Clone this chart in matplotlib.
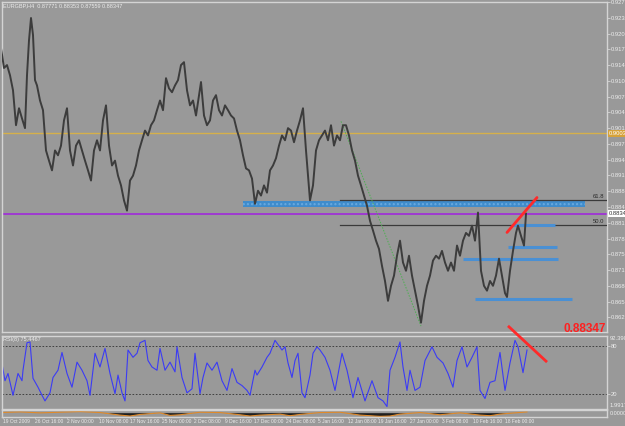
import numpy as np
import matplotlib.pyplot as plt

# ============================================
# DATA
# ============================================

title_text = "EURGBP,H4  0.87771 0.88353 0.87559 0.88347"
rsi_text = "RSI(8) 75.4467"

# H4 bar number (x) and close price
bar_idx = [1, 4, 7, 10, 13, 16, 19, 22, 25, 27, 29, 31, 33, 35, 37, 40, 43, 46, 49, 52,
           55, 58, 61, 64, 67, 70, 73, 76, 79, 82, 85, 88, 91, 94, 97, 100, 103, 106, 109, 112,
           115, 118, 121, 124, 127, 130, 133, 136, 139, 142, 145, 148, 151, 154, 157, 160, 163, 166, 169, 172,
           175, 178, 181, 184, 187, 190, 193, 196, 199, 201, 204, 207, 210, 213, 216, 219, 222, 225, 228, 231,
           234, 237, 240, 243, 246, 249, 252, 255, 258, 261, 264, 267, 270, 273, 276, 279, 282, 285, 288, 291,
           294, 297, 300, 303, 306, 308, 310, 313, 316, 319, 322, 325, 328, 331, 334, 337, 340, 343, 346, 349,
           352, 355, 358, 361, 364, 367, 370, 373, 376, 379, 382, 385, 388, 391, 394, 397, 400, 403, 406, 409,
           412, 415, 418, 421, 424, 427, 430, 433, 436, 439, 442, 445, 448, 451, 454, 457, 460, 463, 466, 469,
           472, 475, 478, 481, 484, 487, 490, 493, 496, 499, 502, 505, 507, 510, 513, 516, 518, 521, 524, 526]
close = [0.9176, 0.9135, 0.9141, 0.9120, 0.9089, 0.9017, 0.9052, 0.9031, 0.9011, 0.9120,
         0.9192, 0.9238, 0.9203, 0.9110, 0.9099, 0.9068, 0.9048, 0.8965, 0.8944, 0.8924,
         0.8965, 0.8955, 0.8975, 0.9027, 0.9052, 0.8965, 0.8934, 0.8975, 0.8986, 0.8965,
         0.8944, 0.8924, 0.8903, 0.8965, 0.8986, 0.8965, 0.9027, 0.9058, 0.8975, 0.8934,
         0.8944, 0.8913, 0.8893, 0.8862, 0.8841, 0.8903, 0.8913, 0.8934, 0.8965, 0.8986,
         0.9006, 0.8996, 0.9017, 0.9027, 0.9048, 0.9068, 0.9048, 0.9114, 0.9093, 0.9085,
         0.9099, 0.9110, 0.9141, 0.9147, 0.9089, 0.9058, 0.9068, 0.9037, 0.9079, 0.9106,
         0.9037, 0.9017, 0.9027, 0.9068, 0.9079, 0.9048, 0.9037, 0.9058, 0.9048, 0.9037,
         0.9031, 0.9006, 0.8986, 0.8955, 0.8928, 0.8924, 0.8907, 0.8855, 0.8882, 0.8872,
         0.8893, 0.8878, 0.8924, 0.8934, 0.8949, 0.8975, 0.8996, 0.8986, 0.9011, 0.9006,
         0.8982, 0.9006, 0.9027, 0.9052, 0.8965, 0.8913, 0.8862, 0.8893, 0.8965, 0.8986,
         0.8996, 0.9006, 0.8986, 0.9017, 0.8975, 0.8996, 0.8986, 0.9017, 0.9017, 0.8996,
         0.8965, 0.8944, 0.8913, 0.8893, 0.8872, 0.8851, 0.8820, 0.8800, 0.8779, 0.8762,
         0.8727, 0.8696, 0.8655, 0.8686, 0.8707, 0.8748, 0.8779, 0.8734, 0.8717, 0.8748,
         0.8707, 0.8676, 0.8645, 0.8610, 0.8655, 0.8686, 0.8707, 0.8738, 0.8748, 0.8742,
         0.8758, 0.8734, 0.8717, 0.8734, 0.8717, 0.8769, 0.8748, 0.8779, 0.8795, 0.8789,
         0.8810, 0.8779, 0.8837, 0.8717, 0.8686, 0.8676, 0.8696, 0.8686, 0.8707, 0.8742,
         0.8707, 0.8671, 0.8663, 0.8717, 0.8758, 0.8795, 0.8810, 0.8789, 0.8769, 0.88347]

# RSI(8)
rsi_bar = [2, 5, 8, 13, 18, 22, 23, 27, 30, 33, 38, 42, 45, 50, 53, 58, 62, 67, 72, 77,
           82, 87, 90, 95, 100, 105, 110, 115, 118, 122, 125, 128, 133, 137, 140, 145, 148, 152, 157, 160,
           165, 170, 175, 177, 182, 187, 192, 195, 200, 203, 207, 212, 217, 222, 227, 232, 237, 242, 247, 250,
           255, 257, 262, 267, 270, 275, 282, 285, 288, 292, 295, 298, 302, 305, 310, 313, 317, 320, 325, 330,
           335, 342, 347, 353, 358, 365, 372, 378, 383, 387, 390, 395, 400, 403, 407, 410, 415, 420, 425, 432,
           437, 443, 448, 453, 457, 462, 467, 472, 477, 480, 485, 490, 495, 500, 505, 510, 515, 518, 523, 527]
rsi_val = [58, 37, 46, 19, 46, 37, 50, 84, 85, 40, 29, 19, 12, 22, 41, 50, 72, 46, 29, 60,
           50, 37, 19, 71, 54, 77, 46, 21, 44, 22, 12, 75, 66, 71, 84, 87, 62, 54, 50, 77,
           50, 60, 48, 79, 41, 22, 27, 71, 21, 41, 59, 50, 60, 37, 25, 52, 35, 31, 25, 19,
           50, 44, 54, 66, 71, 87, 75, 79, 59, 41, 62, 71, 22, 16, 44, 71, 79, 75, 66, 50,
           25, 71, 50, 16, 41, 12, 37, 16, 12, 5, 50, 66, 85, 54, 25, 50, 25, 29, 62, 79,
           66, 59, 46, 29, 62, 79, 54, 66, 79, 25, 15, 35, 37, 72, 25, 59, 87, 79, 47, 75]

# small oscillator strip under the RSI
osc_bar = [0, 20, 40, 60, 80, 100, 120, 130, 140, 160, 170, 180, 200, 220, 240, 250, 260,
           280, 290, 300, 320, 340, 360, 380, 390, 400, 420, 440, 460, 480, 490, 500, 515, 527]
osc_val = [0.2, 0.4, 0.1, 0.3, 0.5, 0.2, -0.6, -0.9, -0.4, 0.1, -0.7, -0.5, 0.3, 0.2, -0.5, -0.9, -0.6,
           -0.3, -0.8, -0.4, 0.2, 0.3, -0.6, -1.0, -0.9, -0.3, 0.2, -0.5, 0.1, -0.6, -0.8, -0.3, 0.1, 0.4]

# levels and drawn objects
orange_level = 0.9000
bid_level = 0.88347
fib_levels = [0.8862, 0.8812]
fib_labels = ["61.8", "50.0"]
band_lo, band_hi = 0.8848, 0.8860
blue_levels = [0.8812, 0.8765, 0.8742, 0.8659]
blue_start = [513, 508, 463, 475]
blue_end = [555, 557, 558, 572]

price_ticks = [0.92710, 0.92385, 0.92060, 0.91735, 0.91410, 0.91085, 0.90760, 0.90435, 0.90110,
               0.89785, 0.89460, 0.89135, 0.88810, 0.88485, 0.88160, 0.87835, 0.87510, 0.87185,
               0.86860, 0.86535, 0.86210]

time_pos = [3, 35, 67, 99, 130, 162, 194, 225, 254, 286, 318, 348, 378, 410, 442, 473, 505]
time_labels = ["19 Oct 2009", "26 Oct 16:00", "2 Nov 00:00", "10 Nov 08:00", "17 Nov 16:00",
               "25 Nov 00:00", "2 Dec 08:00", "9 Dec 16:00", "17 Dec 00:00", "24 Dec 08:00",
               "5 Jan 16:00", "12 Jan 08:00", "19 Jan 16:00", "27 Jan 00:00", "3 Feb 08:00",
               "10 Feb 16:00", "18 Feb 00:00"]

# ============================================
# STYLE
# ============================================

bg = "#999999"
frame = "#d4d4d4"
txt = "#ececec"
small = ["Liberation Sans", "DejaVu Sans"]
plt.rcParams["font.family"] = small

fig = plt.figure(figsize=(6.25, 4.26), dpi=100, facecolor=bg)
ax = fig.add_axes([2 / 625, 1 - 332 / 426, 605 / 625, 330 / 426])
ax_rsi = fig.add_axes([2 / 625, 1 - 409 / 426, 605 / 625, 73 / 426])
ax_osc = fig.add_axes([2 / 625, 1 - 417 / 426, 605 / 625, 7 / 426])

for a in (ax, ax_rsi, ax_osc):
    a.set_facecolor(bg)
    a.set_xlim(2, 607)
    for s in a.spines.values():
        s.set_color(frame)
        s.set_linewidth(1)
    a.yaxis.tick_right()
    a.tick_params(axis="y", colors=frame, labelcolor=txt, labelsize=4.2, length=2, width=0.6, pad=1)
    a.tick_params(axis="x", bottom=False, labelbottom=False)

# ============================================
# MAIN PRICE PANEL
# ============================================

ax.set_ylim(0.85908, 0.92710)
ax.set_yticks(price_ticks)
ax.set_yticklabels(["%.5f" % v for v in price_ticks])

ax.axhline(orange_level, color="#d6b04a", lw=1)
ax.axhline(bid_level, color="#a020e0", lw=1.1)

ax.fill_between([243, 585], band_lo, band_hi, facecolor="#3f8ccc", edgecolor="#6aaae0",
                hatch="....", lw=0, zorder=2)

for lvl, lab in zip(fib_levels, fib_labels):
    ax.plot([340, 606], [lvl, lvl], color="#3a3a3a", lw=0.9, zorder=3)
    ax.text(604, lvl + 0.0002, lab, color="#2a2a2a", fontsize=4.2, ha="right", va="bottom")

for lvl, x0, x1 in zip(blue_levels, blue_start, blue_end):
    ax.plot([x0, x1], [lvl, lvl], color="#4a90d4", lw=2.2, solid_capstyle="butt", zorder=3)

ax.plot([341, 421], [0.9025, 0.8603], color="#4caf50", lw=0.7, ls=(0, (1.5, 1.5)), zorder=3)

ax.plot(bar_idx, close, color="#3c3c3c", lw=1.4, zorder=4)

ax.plot([507, 537], [0.8796, 0.8868], color="#ff2a2a", lw=2, zorder=5, solid_capstyle="round")

ax.text(0.002, 0.997, title_text, transform=ax.transAxes, color=txt, fontsize=4, va="top")

# price labels on the right scale
ax.text(609, orange_level, "0.90030", fontsize=4.2, color="#ffffff", va="center", ha="left",
        bbox=dict(boxstyle="square,pad=0.15", fc="#d6a23a", ec="none"), clip_on=False)
ax.text(609, bid_level, "0.88346", fontsize=4.2, color="#333333", va="center", ha="left",
        bbox=dict(boxstyle="square,pad=0.15", fc="#ffffff", ec="none"), clip_on=False)
ax.text(606, 0.8597, "0.88347", fontsize=8.5, color="#ff2020", fontweight="bold",
        ha="right", va="center", zorder=6)

# ============================================
# RSI PANEL
# ============================================

ax_rsi.set_ylim(1.9917, 92.3901)
ax_rsi.set_yticks([80, 20])
ax_rsi.set_yticklabels(["80", "20"])
ax_rsi.axhline(80, color="#333333", lw=0.6, ls=(0, (2, 2)))
ax_rsi.axhline(20, color="#333333", lw=0.6, ls=(0, (2, 2)))
ax_rsi.plot(rsi_bar, rsi_val, color="#3b3bf5", lw=0.8)
ax_rsi.plot([509, 546], [103.75, 61.25], color="#ff2a2a", lw=2, clip_on=False, zorder=5)
ax_rsi.text(0.002, 0.99, rsi_text, transform=ax_rsi.transAxes, color=txt, fontsize=4, va="top")
ax_rsi.text(1.004, 0.97, "92.3901", transform=ax_rsi.transAxes, color=txt, fontsize=4.2, va="center")
ax_rsi.text(1.004, 0.05, "1.9917", transform=ax_rsi.transAxes, color=txt, fontsize=4.2, va="center")

# ============================================
# OSCILLATOR STRIP + TIME AXIS
# ============================================

ax_osc.set_ylim(-1.2, 1.0)
ax_osc.set_yticks([])
osc = np.array(osc_val)
ax_osc.fill_between(osc_bar, 0, osc, where=osc < 0, color="#1e1e1e", lw=0, interpolate=True)
ax_osc.plot(osc_bar, osc_val, color="#e08a2a", lw=0.8)
ax_osc.text(1.004, 0.5, "0.0000", transform=ax_osc.transAxes, color=txt, fontsize=4, va="center")

for p, lab in zip(time_pos, time_labels):
    ax_osc.text(p, -1.9, lab, color=txt, fontsize=3.5, ha="left", va="top", clip_on=False)
    ax_osc.plot([p, p], [-1.2, -1.6], color=frame, lw=0.5, clip_on=False)

fig.savefig("out.png", dpi=100, facecolor=bg)
